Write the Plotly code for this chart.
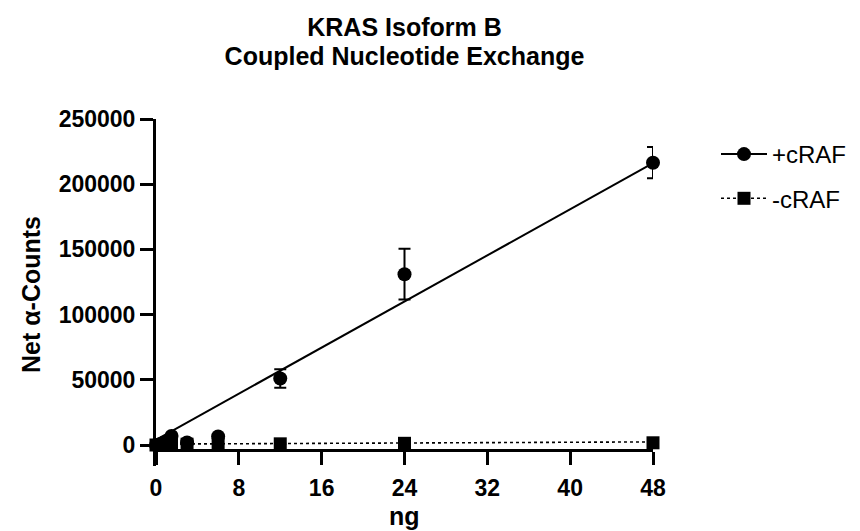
import numpy as np
import plotly.graph_objects as go

# ---- data ----
ng = [0, 0.375, 0.75, 1.5, 3, 6, 12, 24, 48]
plus_craf = [0, 500, 2000, 6900, 1900, 6500, 51000, 131000, 216500]
plus_err = [300, 300, 500, 800, 600, 900, 7000, 19500, 12000]
minus_craf = [0, 300, 500, 800, 600, 700, 900, 1300, 1700]
minus_err = [100, 100, 100, 200, 200, 200, 200, 300, 300]
# linear fits (slope per ng, intercept) as drawn in the reference
plus_fit = (4420, 4000)
minus_fit = (35, 700)

y_ticks = [0, 50000, 100000, 150000, 200000, 250000]
x_ticks = [0, 8, 16, 24, 32, 40, 48]
title_lines = ["KRAS Isoform B", "Coupled Nucleotide Exchange"]

FONT = "Arial, Liberation Sans, sans-serif"
fit_x = np.array([min(ng), max(ng)])

fig = go.Figure()
fig.add_trace(go.Scatter(
    x=fit_x, y=plus_fit[0] * fit_x + plus_fit[1], mode="lines",
    line=dict(color="black", width=2), showlegend=False, hoverinfo="skip",
    cliponaxis=False))
fig.add_trace(go.Scatter(
    x=fit_x, y=minus_fit[0] * fit_x + minus_fit[1], mode="lines",
    line=dict(color="black", width=1.6, dash="dot"), showlegend=False,
    hoverinfo="skip", cliponaxis=False))
fig.add_trace(go.Scatter(
    x=ng, y=plus_craf, name="+cRAF", mode="markers",
    marker=dict(symbol="circle", size=14, color="black"),
    error_y=dict(type="data", array=plus_err, color="black", thickness=2, width=6),
    cliponaxis=False, showlegend=False))
fig.add_trace(go.Scatter(
    x=ng, y=minus_craf, name="-cRAF", mode="markers",
    marker=dict(symbol="square", size=13, color="black"),
    error_y=dict(type="data", array=minus_err, color="black", thickness=2, width=6),
    cliponaxis=False, showlegend=False))

# legend entries showing line style + marker
fig.add_trace(go.Scatter(x=[None], y=[None], name="+cRAF", mode="lines+markers",
                         line=dict(color="black", width=2),
                         marker=dict(symbol="circle", size=14, color="black"),
                         legendgroup="a"))
fig.add_trace(go.Scatter(x=[None], y=[None], name="-cRAF", mode="lines+markers",
                         line=dict(color="black", width=1.6, dash="dot"),
                         marker=dict(symbol="square", size=13, color="black"),
                         legendgroup="b"))

W, H = 860, 531
plot_left, plot_right = 148, 645
plot_top, plot_bottom = 111, 458
plot_w = plot_right - plot_left
plot_h = plot_bottom - plot_top
xaxis_px = 442


def px_x(px):
    return (px - plot_left) / plot_w


def px_y(px):
    return (plot_bottom - px) / plot_h


title_html = "<br>".join(
    '<span style="font-size:25px"><b>%s</b></span>' % t for t in title_lines)

annotations = [
    dict(text="<b>Net α-Counts</b>", x=px_x(23), y=px_y(287), xref="paper", yref="paper",
         xanchor="center", yanchor="middle", textangle=-90, showarrow=False,
         font=dict(size=25, family=FONT, color="black")),
    dict(text="<b>ng</b>", x=0.5, y=px_y(508), xref="paper", yref="paper",
         xanchor="center", yanchor="middle", showarrow=False,
         font=dict(size=25, family=FONT, color="black")),
]

fig.update_layout(
    width=W, height=H,
    paper_bgcolor="white", plot_bgcolor="white",
    margin=dict(l=plot_left, r=W - plot_right, t=plot_top, b=H - plot_bottom),
    font=dict(family=FONT, color="black"),
    title=dict(text=title_html, x=(plot_left + plot_right) / 2 / W, xanchor="center",
               y=1 - 28 / H, yanchor="top",
               font=dict(size=22, family=FONT, color="black")),
    annotations=annotations,
    xaxis=dict(range=[0, 48], tickvals=x_ticks, ticktext=[str(v) for v in x_ticks],
               showline=True, linecolor="black", linewidth=3,
               ticks="outside", ticklen=13, tickwidth=3, tickcolor="black",
               showgrid=False, zeroline=False,
               anchor="free", position=(plot_bottom - xaxis_px) / plot_h,
               ticklabelstandoff=3,
               tickfont=dict(size=23, family=FONT, color="black", weight="bold")),
    yaxis=dict(range=[-16100, 250000], tickvals=y_ticks, ticktext=[str(v) for v in y_ticks],
               showline=True, linecolor="black", linewidth=3,
               ticks="outside", ticklen=13, tickwidth=3, tickcolor="black",
               showgrid=False, zeroline=False,
               tickfont=dict(size=23, family=FONT, color="black", weight="bold")),
    legend=dict(x=px_x(708), y=px_y(124), xanchor="left", yanchor="top",
                font=dict(size=24, family=FONT, color="black"),
                traceorder="grouped", tracegroupgap=10, itemwidth=46,
                bgcolor="rgba(0,0,0,0)"),
)

fig.write_html("out.html")
